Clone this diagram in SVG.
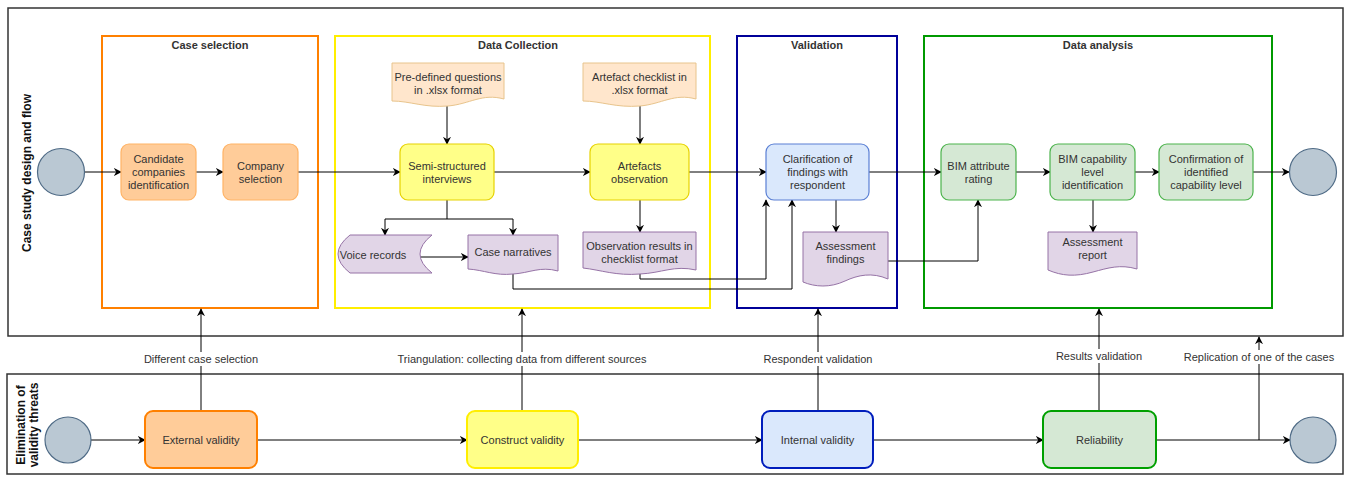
<svg xmlns="http://www.w3.org/2000/svg" width="1349" height="477" viewBox="0 0 1349 477">
<defs>
<marker id="arr" viewBox="0 0 10 10" refX="9" refY="5" markerWidth="8" markerHeight="8" markerUnits="userSpaceOnUse" orient="auto">
<path d="M0,0 L10,5 L0,10 L3,5 Z" fill="#000"/>
</marker>
<style>
text{font-family:"Liberation Sans",Arial,sans-serif;font-size:11px;fill:#333;text-anchor:middle}
.title{font-weight:bold;fill:#333}
.lane{font-weight:bold;font-size:12px;fill:#111}
.pool{fill:#fff;stroke:#333;stroke-width:1.5}
.grp{fill:none;stroke-width:2}
.c{fill:none;stroke:#000;stroke-width:1}
.ca{fill:none;stroke:#000;stroke-width:1;marker-end:url(#arr)}
.circ{fill:#bac8d3;stroke:#4f6b86;stroke-width:1.2}
.or{fill:#ffcc99;stroke:#ffb366;stroke-width:1.2}
.ye{fill:#ffff88;stroke:#e6d200;stroke-width:1.2}
.bl{fill:#dae8fc;stroke:#5a7fd4;stroke-width:1.2}
.gr{fill:#d5e8d4;stroke:#4cb34c;stroke-width:1.2}
.doc1{fill:#ffe6cc;stroke:#e8c48c;stroke-width:1}
.doc2{fill:#e1d5e7;stroke:#9673a6;stroke-width:1}
.lbl{fill:#fff}
</style>
</defs>

<!-- pools -->
<g id="pool-top">
<rect class="pool" x="8" y="8" width="1335" height="328"/>
<text class="lane" transform="translate(31,173) rotate(-90)">Case study design and flow</text>
</g>
<g id="pool-bottom">
<rect class="pool" x="7" y="374" width="1336" height="100"/>
<text class="lane" transform="translate(25,425) rotate(-90)">Elimination of</text>
<text class="lane" transform="translate(38,425) rotate(-90)">validity threats</text>
</g>

<!-- groups -->
<g id="grp-case-selection">
<rect class="grp" x="102" y="36" width="216" height="272" stroke="#ff8000"/>
<text class="title" x="210" y="49">Case selection</text>
</g>
<g id="grp-data-collection">
<rect class="grp" x="335" y="36" width="375" height="272" stroke="#ffee00"/>
<text class="title" x="518" y="49">Data Collection</text>
</g>
<g id="grp-validation">
<rect class="grp" x="737" y="36" width="160" height="272" stroke="#000099"/>
<text class="title" x="817" y="49">Validation</text>
</g>
<g id="grp-data-analysis">
<rect class="grp" x="924" y="36" width="348" height="272" stroke="#009900"/>
<text class="title" x="1098" y="49">Data analysis</text>
</g>

<!-- connectors -->
<g id="connectors">
<line class="ca" x1="85" y1="172" x2="121" y2="172"/>
<line class="ca" x1="196" y1="172" x2="223" y2="172"/>
<line class="ca" x1="298" y1="172" x2="400" y2="172"/>
<line class="ca" x1="494" y1="172" x2="590" y2="172"/>
<line class="ca" x1="689" y1="172" x2="766" y2="172"/>
<line class="ca" x1="869" y1="172" x2="941" y2="172"/>
<line class="ca" x1="1016" y1="172" x2="1050" y2="172"/>
<line class="ca" x1="1135" y1="172" x2="1159" y2="172"/>
<line class="ca" x1="1253" y1="172" x2="1289" y2="172"/>
<line class="ca" x1="447" y1="106" x2="447" y2="144"/>
<line class="ca" x1="640" y1="106" x2="640" y2="144"/>
<line class="c" x1="447" y1="200" x2="447" y2="219"/>
<polyline class="ca" points="447,219 385,219 385,235"/>
<polyline class="ca" points="447,219 513,219 513,235"/>
<line class="ca" x1="418" y1="257" x2="468" y2="257"/>
<line class="ca" x1="640" y1="200" x2="640" y2="232"/>
<polyline class="ca" points="640,273 640,279 766,279 766,200"/>
<polyline class="ca" points="513,274 513,289 792,289 792,200"/>
<line class="ca" x1="836" y1="200" x2="836" y2="232"/>
<polyline class="ca" points="888,261 978,261 978,200"/>
<line class="ca" x1="1093" y1="200" x2="1093" y2="232"/>

<line class="ca" x1="91" y1="440" x2="145" y2="440"/>
<line class="ca" x1="257" y1="440" x2="467" y2="440"/>
<line class="ca" x1="578" y1="440" x2="762" y2="440"/>
<line class="ca" x1="873" y1="440" x2="1043" y2="440"/>
<line class="ca" x1="1156" y1="440" x2="1290" y2="440"/>
<line class="ca" x1="201" y1="411" x2="201" y2="309"/>
<line class="ca" x1="522" y1="411" x2="522" y2="309"/>
<line class="ca" x1="818" y1="411" x2="818" y2="309"/>
<line class="ca" x1="1099" y1="411" x2="1099" y2="309"/>
<line class="ca" x1="1259" y1="440" x2="1259" y2="337"/>

<rect class="lbl" x="140" y="352" width="122" height="14"/>
<text x="201" y="363">Different case selection</text>
<rect class="lbl" x="393" y="352" width="258" height="14"/>
<text x="522" y="363">Triangulation: collecting data from different sources</text>
<rect class="lbl" x="762" y="352" width="112" height="14"/>
<text x="818" y="363">Respondent validation</text>
<rect class="lbl" x="1054" y="349" width="90" height="14"/>
<text x="1099" y="360">Results validation</text>
<rect class="lbl" x="1181" y="350" width="156" height="14"/>
<text x="1259" y="361">Replication of one of the cases</text>
</g>

<!-- nodes top -->
<g id="start-top"><circle class="circ" cx="61" cy="172" r="23.5"/></g>
<g id="candidate">
<rect class="or" x="121" y="144" width="75" height="56" rx="8"/>
<text x="158.5" y="163">Candidate</text><text x="158.5" y="176">companies</text><text x="158.5" y="189">identification</text>
</g>
<g id="company-selection">
<rect class="or" x="223" y="144" width="75" height="56" rx="8"/>
<text x="260.5" y="170">Company</text><text x="260.5" y="183">selection</text>
</g>
<g id="predefined-questions">
<path class="doc1" d="M392,63 H504 V99 C482,93 470,104 448,106 C425,108 410,101 392,101 Z"/>
<text x="448" y="81">Pre-defined questions</text><text x="448" y="94">in .xlsx format</text>
</g>
<g id="artefact-checklist">
<path class="doc1" d="M583,63 H696 V99 C674,93 662,104 640,106 C616,108 601,101 583,101 Z"/>
<text x="639.5" y="81">Artefact checklist in</text><text x="639.5" y="94">.xlsx format</text>
</g>
<g id="semi-structured">
<rect class="ye" x="400" y="144" width="94" height="56" rx="8"/>
<text x="447" y="170">Semi-structured</text><text x="447" y="183">interviews</text>
</g>
<g id="artefacts-observation">
<rect class="ye" x="590" y="144" width="99" height="56" rx="8"/>
<text x="639.5" y="170">Artefacts</text><text x="639.5" y="183">observation</text>
</g>
<g id="voice-records">
<path class="doc2" d="M350,235 L432,235 Q408,254 432,273 L350,273 Q326,254 350,235 Z"/>
<text x="373" y="259">Voice records</text>
</g>
<g id="case-narratives">
<path class="doc2" d="M468,235 H558 V271 C540,266 530,273 513,274 C495,276 484,270 468,269 Z"/>
<text x="513" y="256">Case narratives</text>
</g>
<g id="observation-results">
<path class="doc2" d="M583,232 H696 V270 C674,265 662,273 640,274 C616,276 601,270 583,268 Z"/>
<text x="639.5" y="250">Observation results in</text><text x="639.5" y="263">checklist format</text>
</g>
<g id="clarification">
<rect class="bl" x="766" y="144" width="103" height="56" rx="8"/>
<text x="817.5" y="163">Clarification of</text><text x="817.5" y="176">findings with</text><text x="817.5" y="189">respondent</text>
</g>
<g id="assessment-findings">
<path class="doc2" d="M803,232 H888 V279 C872,272 858,275 845,281 C830,288 815,287 803,282 Z"/>
<text x="845.5" y="250">Assessment</text><text x="845.5" y="263">findings</text>
</g>
<g id="bim-attribute">
<rect class="gr" x="941" y="144" width="75" height="56" rx="8"/>
<text x="978.5" y="170">BIM attribute</text><text x="978.5" y="183">rating</text>
</g>
<g id="bim-capability">
<rect class="gr" x="1050" y="144" width="85" height="56" rx="8"/>
<text x="1092.5" y="163">BIM capability</text><text x="1092.5" y="176">level</text><text x="1092.5" y="189">identification</text>
</g>
<g id="confirmation">
<rect class="gr" x="1159" y="144" width="94" height="56" rx="8"/>
<text x="1206" y="163">Confirmation of</text><text x="1206" y="176">identified</text><text x="1206" y="189">capability level</text>
</g>
<g id="assessment-report">
<path class="doc2" d="M1048,232 H1137 V269 C1120,264 1108,268 1093,272 C1075,277 1062,276 1048,270 Z"/>
<text x="1092.5" y="246">Assessment</text><text x="1092.5" y="259">report</text>
</g>
<g id="end-top"><circle class="circ" cx="1313" cy="172" r="23.5"/></g>

<!-- nodes bottom -->
<g id="start-bottom"><circle class="circ" cx="68" cy="440" r="23"/></g>
<g id="external-validity">
<rect x="145" y="411" width="112" height="57" rx="8" fill="#ffcc99" stroke="#ff8000" stroke-width="2"/>
<text x="201" y="444">External validity</text>
</g>
<g id="construct-validity">
<rect x="467" y="411" width="111" height="57" rx="8" fill="#ffff88" stroke="#ffee00" stroke-width="2"/>
<text x="522.5" y="444">Construct validity</text>
</g>
<g id="internal-validity">
<rect x="762" y="411" width="111" height="57" rx="8" fill="#dae8fc" stroke="#001dbc" stroke-width="2"/>
<text x="817.5" y="444">Internal validity</text>
</g>
<g id="reliability">
<rect x="1043" y="411" width="113" height="57" rx="8" fill="#d5e8d4" stroke="#00a000" stroke-width="2"/>
<text x="1099.5" y="444">Reliability</text>
</g>
<g id="end-bottom"><circle class="circ" cx="1313" cy="440" r="23"/></g>
</svg>
